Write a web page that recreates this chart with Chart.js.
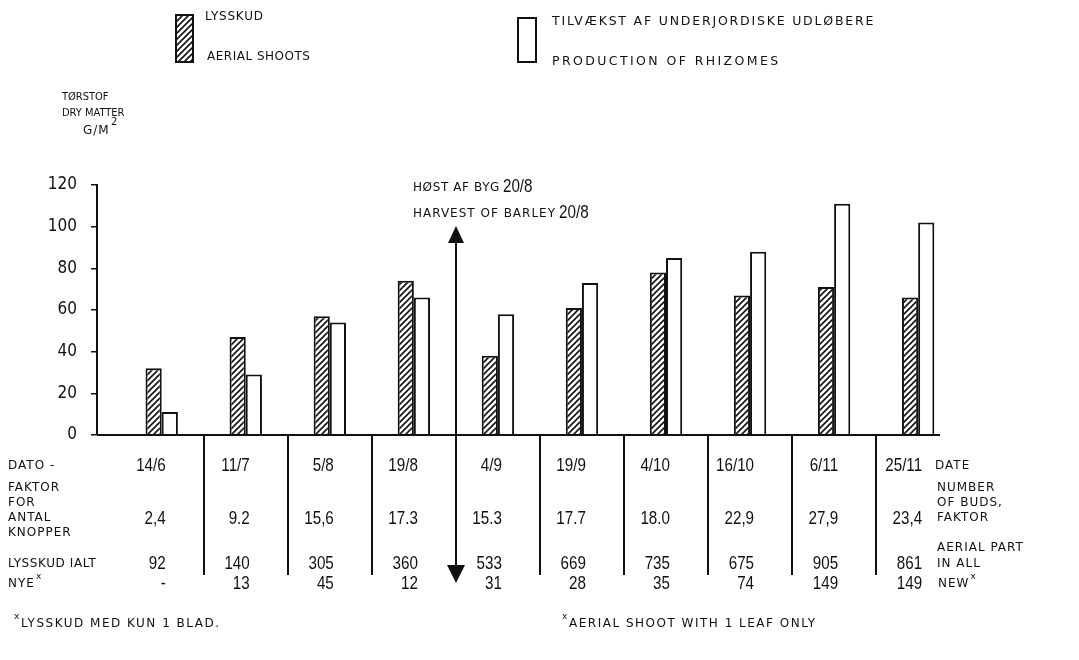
<!DOCTYPE html>
<html>
<head>
<meta charset="utf-8">
<script src="https://cdn.jsdelivr.net/npm/chart.js@4.4.1/dist/chart.umd.min.js"></script>
<style>
  html, body { margin: 0; padding: 0; background: #fff; }
  #wrap { width: 1079px; height: 660px; }
</style>
</head>
<body>
<div id="wrap"><canvas id="chart"></canvas></div>
<script>
// ========== DATA ==========
const dates        = ["14/6", "11/7", "5/8", "19/8", "4/9", "19/9", "4/10", "16/10", "6/11", "25/11"];
const aerialShoots = [32, 47, 57, 74, 38, 61, 78, 67, 71, 66];
const rhizomes     = [11, 29, 54, 66, 58, 73, 85, 88, 111, 102];
const budFactor    = ["2,4", "9.2", "15,6", "17.3", "15.3", "17.7", "18.0", "22,9", "27,9", "23,4"];
const aerialTotal  = ["92", "140", "305", "360", "533", "669", "735", "675", "905", "861"];
const newShoots    = ["-", "13", "45", "12", "31", "28", "35", "74", "149", "149"];
const yTicks       = [0, 20, 40, 60, 80, 100, 120];
const harvestAfter = 3;   // harvest of barley 20/8 falls between 19/8 and 4/9

// ========== STYLE ==========
const INK = "#111";
const TICK_FAMILY = "'DejaVu Sans Condensed', sans-serif";
const NUM_FONT    = "19px 'Liberation Sans', sans-serif";
const LBL_FONT    = "12px 'DejaVu Sans', sans-serif";
const SMALL_FONT  = "11px 'DejaVu Sans Condensed', sans-serif";

function makeHatch() {
  const c = document.createElement("canvas");
  c.width = 6; c.height = 6;
  const g = c.getContext("2d");
  g.fillStyle = "#fff";
  g.fillRect(0, 0, 6, 6);
  g.strokeStyle = INK;
  g.lineWidth = 1.6;
  g.beginPath();
  g.moveTo(0, 6); g.lineTo(6, 0);
  g.moveTo(-1, 1); g.lineTo(1, -1);
  g.moveTo(5, 7); g.lineTo(7, 5);
  g.stroke();
  return g.createPattern(c, "repeat");
}
const hatch = makeHatch();

function txt(ctx, s, x, y, font, align, spacing) {
  ctx.font = font;
  ctx.textAlign = align || "left";
  ctx.textBaseline = "middle";
  ctx.letterSpacing = spacing || "0px";
  ctx.fillText(s, x, y);
  return ctx.measureText(s).width;
}

// narrow numerals, like the typewriter digits of the original
function num(ctx, s, x, y, align) {
  ctx.save();
  ctx.translate(x, y);
  ctx.scale(0.8, 1);
  txt(ctx, s, 0, 0, NUM_FONT, align || "right", "0px");
  ctx.restore();
}

// label with a small raised "x"
function txtMark(ctx, s, x, y) {
  const w = txt(ctx, s, x, y, LBL_FONT, "left", "1px");
  txt(ctx, "x", x + w + 1, y - 7, "9px 'DejaVu Sans', sans-serif", "left", "0px");
}

// ========== DRAWING PLUGIN (axis, legend, table, arrow) ==========
const figurePlugin = {
  id: "figure",
  afterDatasetsDraw(chart) {
    const ctx = chart.ctx;
    const xs = chart.scales.x;
    const ys = chart.scales.y;
    const area = chart.chartArea;
    const y0 = ys.getPixelForValue(0);
    ctx.save();
    ctx.fillStyle = INK;
    ctx.strokeStyle = INK;

    // x baseline
    ctx.lineWidth = 2;
    ctx.beginPath();
    ctx.moveTo(area.left, y0);
    ctx.lineTo(area.right, y0);
    ctx.stroke();

    // legend
    ctx.fillStyle = hatch;
    ctx.fillRect(176, 15, 17, 47);
    ctx.strokeRect(176, 15, 17, 47);
    ctx.fillStyle = "#fff";
    ctx.fillRect(518, 18, 18, 44);
    ctx.strokeRect(518, 18, 18, 44);
    ctx.fillStyle = INK;
    txt(ctx, "LYSSKUD", 205, 17, LBL_FONT, "left", "0.8px");
    txt(ctx, "AERIAL SHOOTS", 207, 57, LBL_FONT, "left", "0.5px");
    txt(ctx, "TILVÆKST AF UNDERJORDISKE UDLØBERE", 552, 22, "12.5px 'DejaVu Sans', sans-serif", "left", "1.8px");
    txt(ctx, "PRODUCTION OF RHIZOMES", 552, 62, "12.5px 'DejaVu Sans', sans-serif", "left", "2.4px");

    // y title
    txt(ctx, "TØRSTOF", 62, 97, SMALL_FONT, "left", "0px");
    txt(ctx, "DRY MATTER", 62, 113, SMALL_FONT, "left", "0px");
    txt(ctx, "G/M", 83, 131, LBL_FONT, "left", "1px");
    txt(ctx, "2", 111, 122, "10px 'DejaVu Sans', sans-serif", "left", "0px");

    // table separators
    const sepBottom = 575;
    ctx.lineWidth = 2;
    for (let i = 0; i < dates.length - 1; i++) {
      if (i === harvestAfter) continue;
      const sx = Math.round(xs.getPixelForValue(i + 0.5));
      ctx.beginPath();
      ctx.moveTo(sx, y0);
      ctx.lineTo(sx, sepBottom);
      ctx.stroke();
    }

    // harvest arrow
    const ax = Math.round(xs.getPixelForValue(harvestAfter + 0.5));
    const aTop = 226, aBot = 583;
    ctx.beginPath();
    ctx.moveTo(ax, aTop + 10);
    ctx.lineTo(ax, aBot - 10);
    ctx.stroke();
    ctx.beginPath();
    ctx.moveTo(ax, aTop); ctx.lineTo(ax - 8, aTop + 17); ctx.lineTo(ax + 8, aTop + 17); ctx.closePath();
    ctx.fill();
    ctx.beginPath();
    ctx.moveTo(ax, aBot); ctx.lineTo(ax - 9, aBot - 18); ctx.lineTo(ax + 9, aBot - 18); ctx.closePath();
    ctx.fill();
    let w = txt(ctx, "HØST AF BYG", 413, 188, LBL_FONT, "left", "0.6px");
    num(ctx, "20/8", 413 + w + 3, 187, "left");
    w = txt(ctx, "HARVEST OF BARLEY", 413, 214, LBL_FONT, "left", "1px");
    num(ctx, "20/8", 413 + w + 3, 213, "left");

    // table rows
    const rowDate = 466, rowFak = 519, rowTot = 564, rowNew = 584;
    txt(ctx, "DATO -", 8, rowDate, LBL_FONT, "left", "1px");
    ["FAKTOR", "FOR", "ANTAL", "KNOPPER"].forEach((s, k) =>
      txt(ctx, s, 8, 488 + k * 15, LBL_FONT, "left", "1px"));
    txt(ctx, "LYSSKUD IALT", 8, rowTot, LBL_FONT, "left", "0.6px");
    txtMark(ctx, "NYE", 8, rowNew);

    txt(ctx, "DATE", 935, rowDate, LBL_FONT, "left", "1px");
    ["NUMBER", "OF BUDS,", "FAKTOR"].forEach((s, k) =>
      txt(ctx, s, 937, 488 + k * 15, LBL_FONT, "left", "1px"));
    txt(ctx, "AERIAL PART", 937, 548, LBL_FONT, "left", "1px");
    txt(ctx, "IN ALL", 937, rowTot, LBL_FONT, "left", "1px");
    txtMark(ctx, "NEW", 938, rowNew);

    dates.forEach((d, i) => {
      const cx = xs.getPixelForValue(i) + 4;
      num(ctx, d, cx, rowDate);
      num(ctx, budFactor[i], cx, rowFak);
      num(ctx, aerialTotal[i], cx, rowTot);
      num(ctx, newShoots[i], cx, rowNew);
    });

    // footnotes
    txt(ctx, "x", 14, 617, "9px 'DejaVu Sans', sans-serif", "left", "0px");
    txt(ctx, "LYSSKUD MED KUN 1 BLAD.", 21, 624, LBL_FONT, "left", "1.5px");
    txt(ctx, "x", 562, 617, "9px 'DejaVu Sans', sans-serif", "left", "0px");
    txt(ctx, "AERIAL SHOOT WITH 1 LEAF ONLY", 569, 624, LBL_FONT, "left", "1.5px");

    ctx.restore();
  }
};

// ========== CHART ==========
const toPoints = vals => vals.map((v, i) => ({ x: i, y: v }));

new Chart(document.getElementById("chart"), {
  type: "bar",
  data: {
    datasets: [
      {
        label: "LYSSKUD / AERIAL SHOOTS",
        data: toPoints(aerialShoots),
        backgroundColor: hatch,
        borderColor: INK,
        borderWidth: 2,
        categoryPercentage: 0.5,
        barPercentage: 1
      },
      {
        label: "TILVÆKST AF UNDERJORDISKE UDLØBERE / PRODUCTION OF RHIZOMES",
        data: toPoints(rhizomes),
        backgroundColor: "#fff",
        borderColor: INK,
        borderWidth: 2,
        categoryPercentage: 0.5,
        barPercentage: 1
      }
    ]
  },
  options: {
    responsive: true,
    maintainAspectRatio: false,
    animation: false,
    layout: { padding: { left: 37, right: 139, top: 185, bottom: 225 } },
    plugins: {
      legend: { display: false },
      tooltip: { enabled: false }
    },
    scales: {
      x: {
        type: "linear",
        offset: false,
        min: -0.77,
        max: 9.26,
        display: false
      },
      y: {
        min: yTicks[0],
        max: yTicks[yTicks.length - 1],
        afterFit: s => { s.width = 60; },
        afterBuildTicks: s => { s.ticks = yTicks.map(v => ({ value: v })); },
        ticks: {
          color: INK,
          padding: 14,
          font: { family: TICK_FAMILY, size: 17 }
        },
        grid: {
          drawOnChartArea: false,
          drawTicks: true,
          tickLength: 6,
          color: INK,
          lineWidth: 1.5
        },
        border: { display: true, color: INK, width: 2 }
      }
    }
  },
  plugins: [figurePlugin]
});
</script>
</body>
</html>
